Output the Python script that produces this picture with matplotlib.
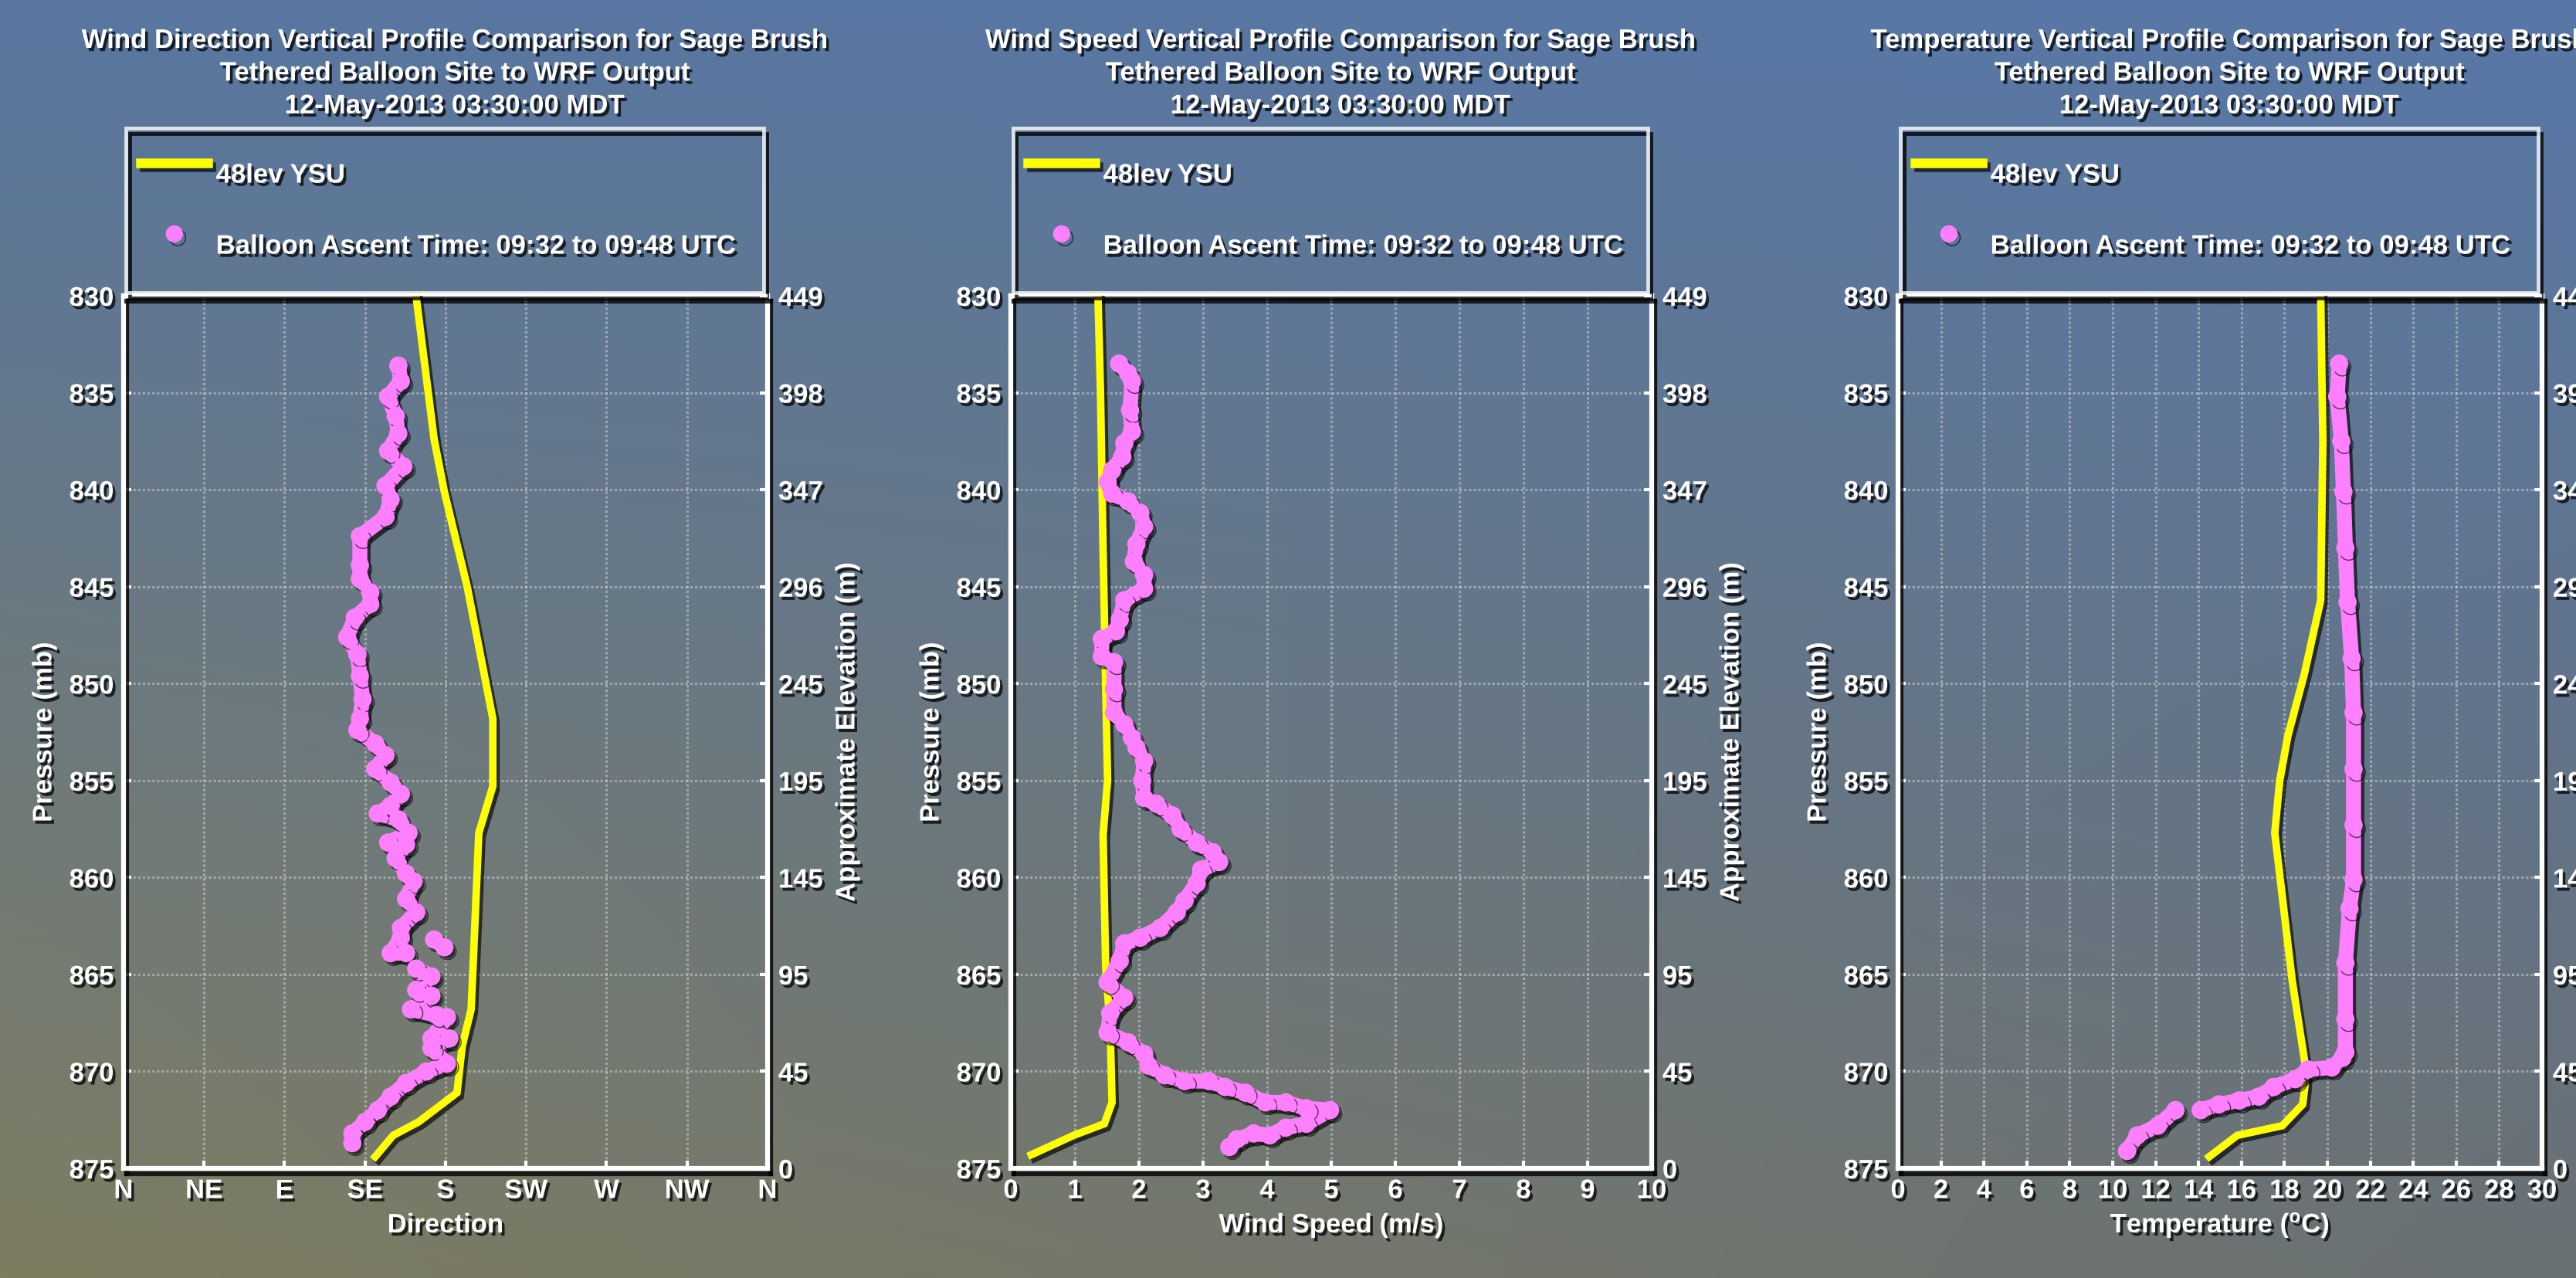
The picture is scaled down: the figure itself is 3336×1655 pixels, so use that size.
import numpy as np
import matplotlib
matplotlib.use('Agg')
import matplotlib.pyplot as plt
import matplotlib.patheffects as pe
from matplotlib.lines import Line2D

# ---------------- data ----------------
p_ticks = [830, 835, 840, 845, 850, 855, 860, 865, 870, 875]
elev_labels = ['449', '398', '347', '296', '245', '195', '145', '95', '45', '0']

dir_ticks = [0, 45, 90, 135, 180, 225, 270, 315, 360]
dir_labels = ['N', 'NE', 'E', 'SE', 'S', 'SW', 'W', 'NW', 'N']
spd_ticks = [0, 1, 2, 3, 4, 5, 6, 7, 8, 9, 10]
tmp_ticks = [0, 2, 4, 6, 8, 10, 12, 14, 16, 18, 20, 22, 24, 26, 28, 30]

# WRF 48lev YSU model profiles
wrf_dir = [163.5, 173.6, 179.3, 192.1, 206.4, 206.4, 198.6, 195.7, 194.3, 189.3, 186.4, 165.0, 150.7, 140.7]
wrf_dir_p = [830.0, 837.4, 840.1, 845.0, 851.8, 855.3, 857.7, 863.9, 866.8, 868.7, 871.1, 872.6, 873.3, 874.4]

wrf_spd = [1.36, 1.40, 1.44, 1.48, 1.51, 1.44, 1.48, 1.55, 1.58, 1.46, 0.98, 0.32]
wrf_spd_p = [830.0, 835.0, 843.1, 850.0, 855.0, 857.8, 864.6, 867.7, 871.6, 872.7, 873.3, 874.3]

wrf_tmp = [19.69, 19.79, 19.69, 18.93, 18.16, 17.78, 17.55, 18.36, 19.0, 18.95, 18.85, 17.90, 15.80, 14.50]
wrf_tmp_p = [830.0, 837.5, 845.7, 849.5, 852.7, 855.0, 857.7, 865.3, 869.9, 870.8, 871.7, 872.8, 873.3, 874.4]

# Tethered balloon observations
bal_dir = [153.6, 155.0, 147.9, 152.1, 153.6, 147.9, 156.4, 146.4, 149.3, 146.4, 132.1, 132.1, 132.1,
           137.9, 137.9, 129.3, 125.0, 130.7, 132.1, 133.6, 132.1, 130.7, 140.7, 146.4, 140.7, 149.3,
           155.0, 149.3, 142.1, 153.6, 159.3, 147.9, 157.9, 152.1, 157.9, 162.1, 157.9, 163.6, 155.0,
           155.0, 149.3, 157.9, np.nan, 173.6, 179.3, np.nan, 163.6, 172.1, 163.6, 172.1, 160.7, 175.0,
           180.7, 172.1, 182.1, 172.1, 180.7, 169.3, 157.9, 149.3, 142.1, 135.0, 127.9, 127.9]
bal_dir_p = [833.6, 834.4, 835.2, 836.2, 837.1, 838.0, 838.8, 839.8, 840.5, 841.4, 842.4, 843.9, 844.6,
             845.3, 845.9, 846.6, 847.6, 848.5, 849.6, 850.8, 851.8, 852.4, 853.1, 853.7, 854.4, 855.1,
             855.7, 856.3, 856.7, 857.0, 857.7, 858.2, 858.3, 859.0, 859.8, 860.2, 861.1, 861.8, 862.6,
             863.1, 863.9, 863.9, np.nan, 863.2, 863.6, np.nan, 864.7, 865.1, 865.8, 866.1, 866.8, 867.1,
             867.2, 868.3, 868.3, 868.8, 869.6, 870.0, 870.6, 871.3, 872.0, 872.6, 873.2, 873.7]

bal_spd = [1.69, 1.83, 1.89, 1.86, 1.89, 1.77, 1.74, 1.58, 1.51, 1.58, 1.83, 2.02, 2.08, 1.96, 1.92,
           2.08, 2.08, 1.77, 1.70, 1.64, 1.42, 1.42, 1.61, 1.61, 1.61, 1.77, 1.89, 1.96, 2.08, 2.05,
           2.08, 2.27, 2.52, 2.65, 2.90, 3.15, 3.25, 2.97, 2.90, 2.71, 2.59, 2.33, 2.02, 1.77, 1.70,
           1.51, 1.77, 1.55, 1.51, 1.83, 2.08, 2.15, 2.40, 2.71, 3.09, 3.34, 3.66, 3.97, 4.29, 4.61,
           4.98, 4.61, 4.29, 4.04, 3.79, 3.53, 3.41]
bal_spd_p = [833.5, 834.0, 834.4, 835.9, 837.0, 837.6, 838.3, 839.0, 839.6, 840.2, 840.6, 841.2, 841.9,
             842.8, 843.7, 844.4, 845.1, 845.7, 846.7, 847.3, 847.7, 848.6, 848.9, 850.3, 851.5, 852.1,
             852.8, 853.3, 854.0, 855.0, 855.9, 856.2, 856.8, 857.5, 858.2, 858.7, 859.2, 859.6, 860.3,
             861.2, 861.8, 862.6, 863.1, 863.4, 864.3, 865.4, 866.2, 867.0, 868.0, 868.5, 869.1, 869.7,
             870.2, 870.5, 870.5, 870.8, 871.1, 871.6, 871.6, 871.9, 872.0, 872.7, 872.9, 873.3, 873.2,
             873.5, 873.9]

bal_tmp = [20.55, 20.46, 20.65, 20.75, 20.84, 20.94, 21.13, 21.22, 21.22, 21.22, 21.22, 21.03, 20.84,
           20.84, 20.84, 20.70, 20.20, 19.10, 18.50, 17.50, 16.80, 15.90, 14.94, 14.10, np.nan,
           12.92, 12.10, 11.15, 10.67]
bal_tmp_p = [833.5, 835.2, 837.5, 840.1, 843.0, 845.8, 848.7, 851.5, 854.4, 857.3, 860.1, 861.6, 864.4,
             867.3, 869.0, 869.3, 869.8, 869.9, 870.4, 870.8, 871.3, 871.5, 871.7, 872.0, np.nan,
             872.0, 872.8, 873.3, 874.1]

titles = ['Wind Direction Vertical Profile Comparison for Sage Brush',
          'Wind Speed Vertical Profile Comparison for Sage Brush',
          'Temperature Vertical Profile Comparison for Sage Brush']
subtitle = 'Tethered Balloon Site to WRF Output\n12-May-2013 03:30:00 MDT'
xlabels = ['Direction', 'Wind Speed (m/s)', r'Temperature ($^{\mathrm{o}}$C)']
legend_labels = ['48lev YSU', 'Balloon Ascent Time: 09:32 to 09:48 UTC']

# ---------------- style ----------------
plt.rcParams['font.family'] = ['Liberation Sans', 'DejaVu Sans']
plt.rcParams['font.weight'] = 'bold'
plt.rcParams['font.size'] = 25
plt.rcParams['mathtext.fontset'] = 'custom'
plt.rcParams['mathtext.rm'] = 'Liberation Sans:bold'
plt.rcParams['mathtext.bf'] = 'Liberation Sans:bold'
plt.rcParams['mathtext.it'] = 'Liberation Sans:bold'

YELLOW = '#ffff00'
PINK = '#ff80ff'
W, H = 3337, 1655
FS = 25

txt_fx = [pe.withSimplePatchShadow(offset=(2.5, -3), shadow_rgbFace='k', alpha=0.75)]
line_fx = [pe.SimpleLineShadow(offset=(3, -3.5), shadow_color='k', alpha=0.65), pe.Normal()]
spine_fx = [pe.SimpleLineShadow(offset=(3, -5), shadow_color='k', alpha=0.8), pe.Normal()]

fig = plt.figure(figsize=(W / 100, H / 100), dpi=100)

# background gradient
bg = fig.add_axes([0, 0, 1, 1], zorder=-10)
yy, xx = np.mgrid[0:1:200j, 0:1:200j]
TL = np.array([88, 118, 160]) / 255
TR = np.array([88, 120, 168]) / 255
BL = np.array([126, 125, 97]) / 255
BR = np.array([106, 113, 116]) / 255
top = (1 - xx)[..., None] * TL + xx[..., None] * TR
bot = (1 - xx)[..., None] * BL + xx[..., None] * BR
img = (1 - yy)[..., None] * top + yy[..., None] * bot
bg.imshow(img, extent=[0, 1, 0, 1], aspect='auto', origin='upper', interpolation='bilinear')
bg.axis('off')

panels = [
    (wrf_dir, wrf_dir_p, bal_dir, bal_dir_p, (0, 360), dir_ticks, dir_labels),
    (wrf_spd, wrf_spd_p, bal_spd, bal_spd_p, (0, 10), spd_ticks, [str(t) for t in spd_ticks]),
    (wrf_tmp, wrf_tmp_p, bal_tmp, bal_tmp_p, (0, 30), tmp_ticks, [str(t) for t in tmp_ticks]),
]

lefts = [160, 1309, 2458]
widths = [834, 830, 834]
ax_top, ax_bot = 383, 1513

for k, (wx, wp, bx, bp, xlim, xt, xtl) in enumerate(panels):
    L = lefts[k]
    Wd = widths[k]
    ax = fig.add_axes([L / W, 1 - ax_bot / H, Wd / W, (ax_bot - ax_top) / H])
    ax.set_facecolor('none')
    ax.set_xlim(*xlim)
    ax.set_ylim(875, 830)
    ax.set_xticks(xt, labels=xtl)
    ax.set_yticks(p_ticks, labels=[str(p) for p in p_ticks])
    ax.grid(True, color='#d8d8d8', lw=2.2, ls=(0, (1, 1)), alpha=0.5)
    ax.set_axisbelow(True)
    ax.tick_params(axis='both', direction='in', length=7, width=3, colors='white',
                   labelsize=FS, pad=9, top=True, right=True)
    for s in ax.spines.values():
        s.set_color('white')
        s.set_linewidth(4.5)
        s.set_path_effects(spine_fx)

    ax.plot(wx, wp, color=YELLOW, lw=7, solid_joinstyle='miter', zorder=3, path_effects=line_fx)
    ax.plot(bx, bp, color=PINK, lw=14, marker='o', ms=16, mec=PINK, zorder=4,
            solid_capstyle='round', solid_joinstyle='round', path_effects=line_fx)

    for lab in ax.get_xticklabels() + ax.get_yticklabels():
        lab.set_path_effects(txt_fx)

    ax2 = ax.twinx()
    ax2.set_ylim(875, 830)
    ax2.set_yticks(p_ticks, labels=elev_labels)
    ax2.tick_params(axis='y', direction='in', length=7, width=3, colors='white',
                    labelsize=FS, pad=10)
    for s in ax2.spines.values():
        s.set_visible(False)
    for lab in ax2.get_yticklabels():
        lab.set_path_effects(txt_fx)

    handles = [Line2D([], [], color=YELLOW, lw=9),
               Line2D([], [], ls='none', marker='o', ms=15, color=PINK)]
    leg = ax.legend(handles, legend_labels, loc='upper left',
                    bbox_to_anchor=(0.004, 1.0, 0.99, 0.192), mode='expand', borderaxespad=0,
                    frameon=True, fancybox=False, edgecolor='white', facecolor='none',
                    borderpad=0.55, labelspacing=0.26, handlelength=2.5, handleheight=3.3,
                    handletextpad=0.3, labelcolor='white',
                    prop=dict(family=['Liberation Sans', 'DejaVu Sans'], weight='bold', size=FS))
    leg.get_frame().set_linewidth(3.5)
    leg.get_frame().set_path_effects(spine_fx)
    for t in leg.get_texts():
        t.set_path_effects(txt_fx)
    for h in leg.legend_handles:
        h.set_path_effects(line_fx)

    cx = L + Wd / 2
    fig.text((cx + 12) / W, 1 - 36 / H, titles[k] + '\n' + subtitle, ha='center', va='top',
             color='white', fontsize=FS, fontweight='bold', linespacing=1.36, path_effects=txt_fx)
    fig.text(cx / W, 1 - 1596 / H, xlabels[k], ha='center', va='baseline', color='white',
             fontsize=FS, fontweight='bold', path_effects=txt_fx)
    fig.text((L - 103) / W, 1 - 948 / H, 'Pressure (mb)', ha='center', va='center',
             rotation=90, color='white', fontsize=FS, fontweight='bold', path_effects=txt_fx)
    fig.text((L + Wd + 103) / W, 1 - 948 / H, 'Approximate Elevation (m)', ha='center',
             va='center', rotation=90, color='white', fontsize=FS, fontweight='bold',
             path_effects=txt_fx)

fig.savefig('out.png', dpi=100)
